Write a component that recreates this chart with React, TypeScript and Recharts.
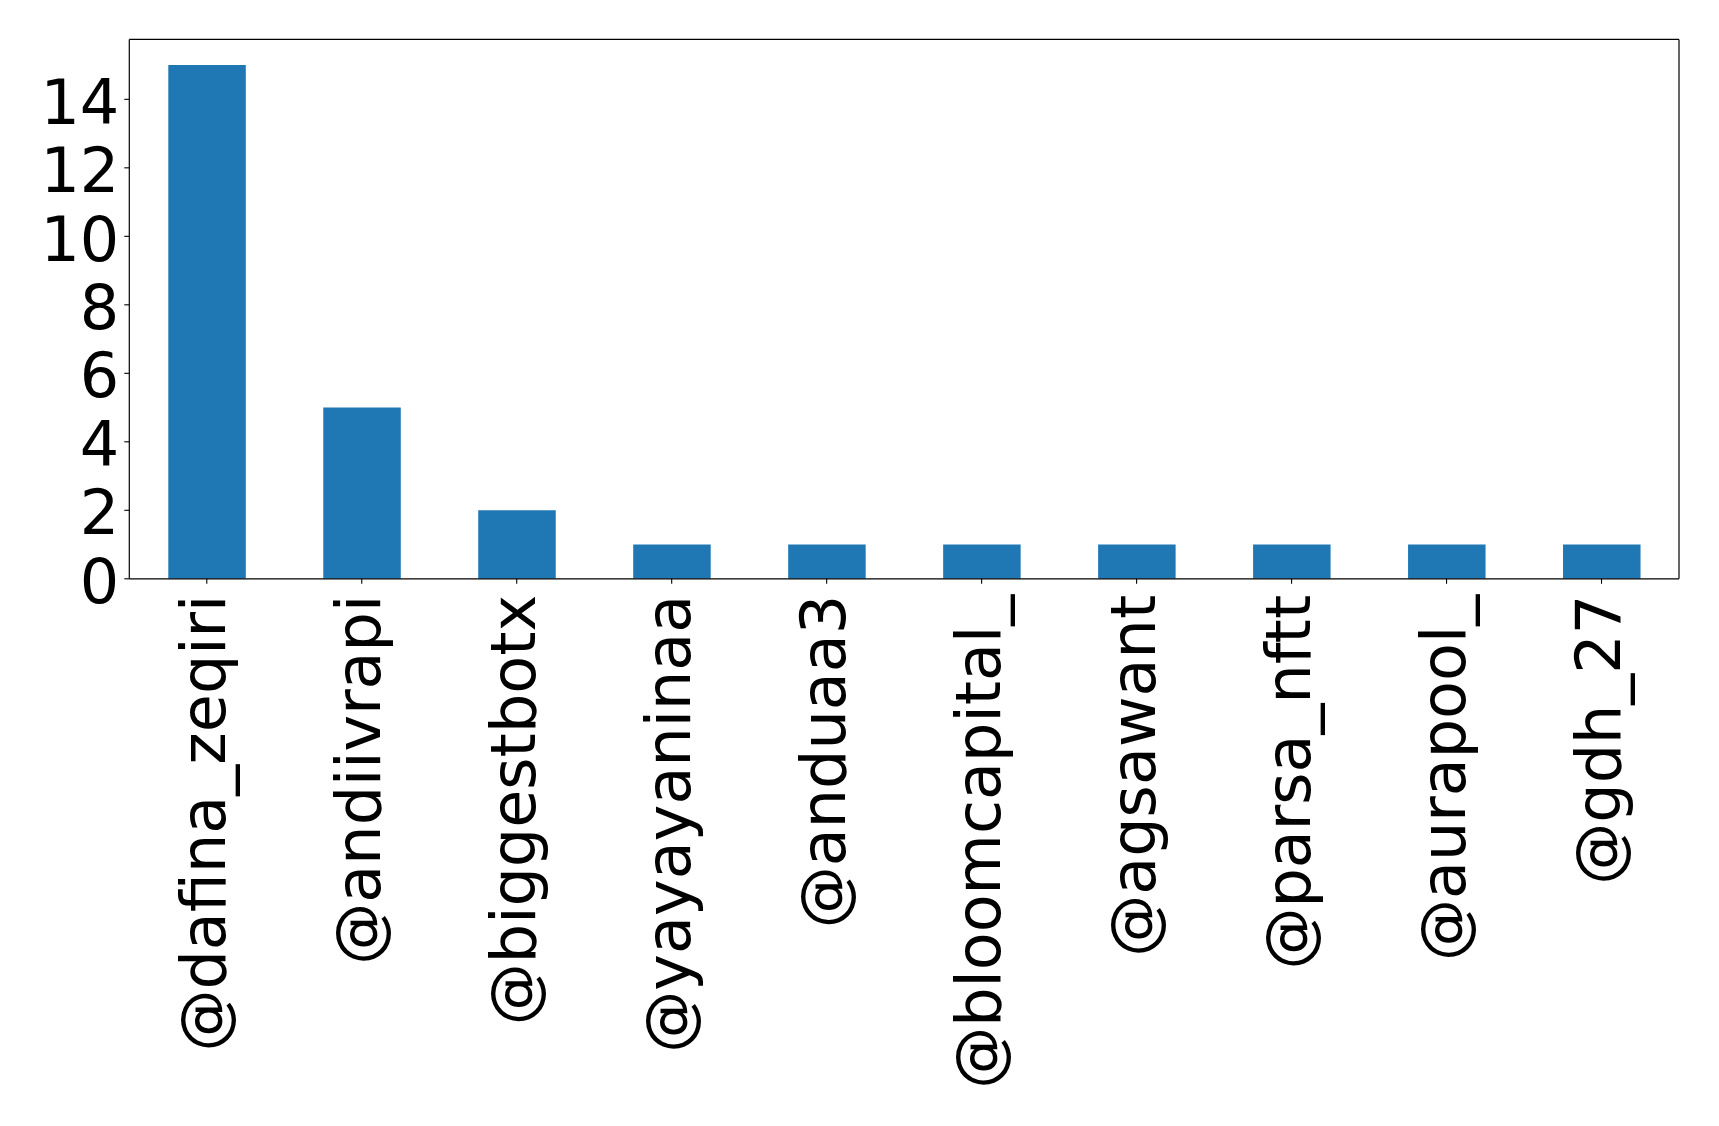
import { Bar, BarChart, Line, XAxis, YAxis } from "recharts";

const handles = [
  "@dafina_zeqiri",
  "@andiivrapi",
  "@biggestbotx",
  "@yayayaninaa",
  "@anduaa3",
  "@bloomcapital_",
  "@agsawant",
  "@parsa_nftt",
  "@aurapool_",
  "@gdh_27",
];
const counts = [15, 5, 2, 1, 1, 1, 1, 1, 1, 1];
const yTicks = [0, 2, 4, 6, 8, 10, 12, 14];

const data = handles.map((name, i) => ({ name, count: counts[i] }));

const FONT = "DejaVu Sans, sans-serif";
const FONT_SIZE = 62;

function HandleTick(props: any) {
  const { x, y, payload } = props;
  return (
    <g transform={`translate(${x},${y}) rotate(-90)`}>
      <text x={0} y={0} dy="0.3em" textAnchor="end" fontFamily={FONT} fontSize={FONT_SIZE} fill="#000">
        {payload.value}
      </text>
    </g>
  );
}

function CountTick(props: any) {
  const { x, y, payload } = props;
  return (
    <text x={x} y={y} dy="0.39em" textAnchor="end" fontFamily={FONT} fontSize={FONT_SIZE} fill="#000">
      {payload.value}
    </text>
  );
}

export default function App() {
  return (
    <div style={{ width: 1719, height: 1126, background: "#fff" }}>
      <style>{"body{margin:0;background:#fff}"}</style>
      <BarChart
        width={1719}
        height={1126}
        data={data}
        margin={{ top: 38.4, right: 39, bottom: 0, left: 0 }}
      >
        <XAxis
          dataKey="name"
          height={547.2}
          interval={0}
          tickSize={5}
          tickMargin={11}
          tick={<HandleTick />}
          tickLine={{ stroke: "#000", strokeWidth: 1.1 }}
          axisLine={{ stroke: "#000", strokeWidth: 1.2 }}
        />
        {/* top and right spines of the matplotlib-style frame */}
        <XAxis
          xAxisId="top"
          orientation="top"
          dataKey="name"
          height={1}
          tick={false}
          tickLine={false}
          axisLine={{ stroke: "#000", strokeWidth: 1.2 }}
        />
        <YAxis
          type="number"
          width={129.3}
          domain={[0, 15.75]}
          ticks={yTicks}
          allowDataOverflow
          tickSize={5}
          tickMargin={5}
          tick={<CountTick />}
          tickLine={{ stroke: "#000", strokeWidth: 1.1 }}
          axisLine={{ stroke: "#000", strokeWidth: 1.2 }}
        />
        <YAxis
          yAxisId="right"
          orientation="right"
          type="number"
          width={1}
          domain={[0, 15.75]}
          allowDataOverflow
          tick={false}
          tickLine={false}
          axisLine={{ stroke: "#000", strokeWidth: 1.2 }}
        />
        <Bar dataKey="count" fill="#1f77b4" barSize={77.5} isAnimationActive={false} />
        <Line
          xAxisId="top"
          yAxisId="right"
          dataKey="count"
          stroke="none"
          dot={false}
          activeDot={false}
          legendType="none"
          isAnimationActive={false}
        />
      </BarChart>
    </div>
  );
}
